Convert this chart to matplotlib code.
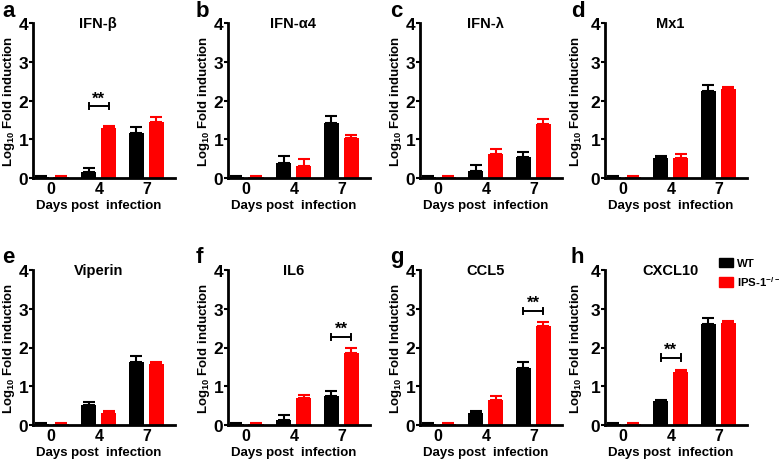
import numpy as np
import matplotlib
matplotlib.use('Agg')
import matplotlib.pyplot as plt
from matplotlib.patches import Patch

plt.rcParams['font.family'] = ['Liberation Sans', 'DejaVu Sans']
plt.rcParams['font.weight'] = 'bold'
plt.rcParams['axes.labelweight'] = 'bold'
plt.rcParams['mathtext.fontset'] = 'custom'
plt.rcParams['mathtext.rm'] = 'Liberation Sans:bold'
plt.rcParams['mathtext.bf'] = 'Liberation Sans:bold'
plt.rcParams['mathtext.default'] = 'bf'

days = ['0', '4', '7']
genes = ['IFN-β', 'IFN-α4', 'IFN-λ', 'Mx1', 'Viperin', 'IL6', 'CCL5', 'CXCL10']
letters = ['a', 'b', 'c', 'd', 'e', 'f', 'g', 'h']
ylab_words = ['Fold induction'] * 6 + ['Fold Induction', 'Fold induction']

wt_mean = [[0.03, 0.15, 1.15], [0.03, 0.38, 1.42], [0.03, 0.18, 0.53], [0.03, 0.52, 2.24],
           [0.03, 0.52, 1.62], [0.03, 0.13, 0.75], [0.03, 0.31, 1.46], [0.03, 0.62, 2.60]]
wt_err = [[0.01, 0.10, 0.16], [0.01, 0.19, 0.17], [0.01, 0.15, 0.15], [0.01, 0.04, 0.17],
          [0.01, 0.08, 0.16], [0.01, 0.13, 0.14], [0.01, 0.06, 0.17], [0.01, 0.03, 0.17]]
ips_mean = [[0.03, 1.28, 1.45], [0.03, 0.32, 1.04], [0.03, 0.63, 1.40], [0.03, 0.51, 2.30],
            [0.03, 0.30, 1.58], [0.03, 0.70, 1.87], [0.03, 0.64, 2.56], [0.03, 1.38, 2.64]]
ips_err = [[0.01, 0.07, 0.13], [0.01, 0.16, 0.07], [0.01, 0.13, 0.13], [0.01, 0.12, 0.04],
           [0.01, 0.07, 0.05], [0.01, 0.08, 0.13], [0.01, 0.10, 0.10], [0.01, 0.03, 0.05]]

# (panel, day index, bracket height)
signif = [(0, 1, 1.85), (5, 2, 2.28), (6, 2, 2.95), (7, 1, 1.74)]

W, H = 779, 464
fig = plt.figure(figsize=(W / 100, H / 100), dpi=100)

lefts = [33, 228, 420, 605]
tops = [24, 271]
aw, ah = 142, 155
letter_x = [2, 196, 390, 571]
ylab_x = [-0.115, -0.115, -0.115, -0.15]

axes = []
for i in range(8):
    r, c = divmod(i, 4)
    ax = fig.add_axes([lefts[c] / W, (H - tops[r] - ah) / H, aw / W, ah / H])
    axes.append(ax)
    x = np.arange(3)
    off, bw = 0.21, 0.32
    ax.bar(x - off, wt_mean[i], bw, color='black', zorder=2)
    ax.bar(x + off, ips_mean[i], bw, color='#ff0000', zorder=2)
    ax.errorbar(x - off, wt_mean[i], yerr=[np.zeros(3), wt_err[i]], fmt='none',
                ecolor='black', elinewidth=1.5, capsize=4, capthick=1.5, zorder=1)
    ax.errorbar(x + off, ips_mean[i], yerr=[np.zeros(3), ips_err[i]], fmt='none',
                ecolor='#ff0000', elinewidth=1.5, capsize=4, capthick=1.5, zorder=1)
    ax.set_xlim(-0.38, 2.6)
    ax.set_ylim(0, 4)
    ax.set_yticks([0, 1, 2, 3, 4])
    ax.set_xticks(x)
    ax.set_xticklabels(days)
    ax.tick_params(axis='x', length=0, labelsize=11.5, pad=2)
    ax.tick_params(axis='y', length=3, width=1.5, labelsize=12.5, pad=0.5)
    for s in ['top', 'right']:
        ax.spines[s].set_visible(False)
    for s in ['left', 'bottom']:
        ax.spines[s].set_linewidth(2)
    ax.set_xlabel('Days post  infection', fontsize=9.5)
    ax.xaxis.set_label_coords(0.46, -0.135)
    ax.set_ylabel('Log$_{10}$ ' + ylab_words[i], fontsize=9.5)
    ax.yaxis.set_label_coords(ylab_x[c], 0.5)
    ax.text(0.46, 1.0, genes[i], transform=ax.transAxes, ha='center', va='center',
            fontsize=10.5)
    fig.text(letter_x[c] / W, 1 - ([1, 247][r]) / H, letters[i],
             ha='left', va='top', fontsize=16)

for p, d, yb in signif:
    ax = axes[p]
    x0, x1 = d - 0.21, d + 0.21
    ax.plot([x0, x1], [yb, yb], color='black', lw=1.4)
    ax.plot([x0, x0], [yb - 0.08, yb + 0.08], color='black', lw=1.4)
    ax.plot([x1, x1], [yb - 0.08, yb + 0.08], color='black', lw=1.4)
    ax.text(d, yb + 0.02, '**', ha='center', va='bottom', fontsize=12)

handles = [Patch(color='black', label='WT'), Patch(color='#ff0000', label='IPS-1$^{-/-}$')]
axes[7].legend(handles=handles, loc='upper left', bbox_to_anchor=(0.8, 1.08), frameon=False,
               fontsize=8.2, handlelength=1.3, handleheight=0.9, handletextpad=0.3,
               borderpad=0, labelspacing=0.5, borderaxespad=0)

fig.savefig('out.png', dpi=100)
